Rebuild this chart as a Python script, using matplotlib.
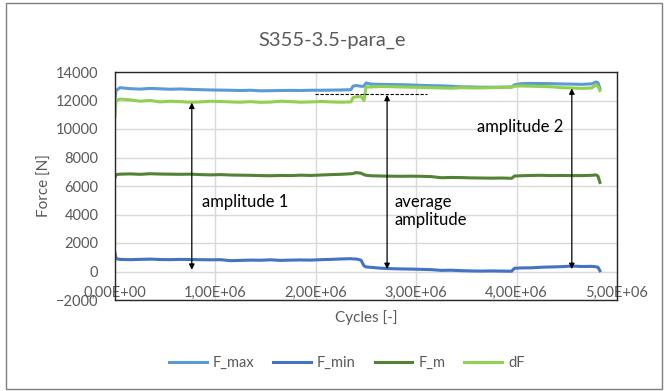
import matplotlib
matplotlib.use("Agg")
import matplotlib.pyplot as plt
from matplotlib.patches import Rectangle
from matplotlib.ticker import FuncFormatter, MultipleLocator

# cycles (x 1e6) shared by all series
cycles = [0.00, 0.01, 0.05, 0.15, 0.25, 0.35, 0.45, 0.55, 0.65, 0.75, 0.85, 0.95,
          1.05, 1.15, 1.25, 1.35, 1.45, 1.55, 1.65, 1.75, 1.85, 1.95, 2.05, 2.15,
          2.25, 2.35, 2.37, 2.40, 2.45, 2.48, 2.50, 2.55, 2.65, 2.75, 2.85, 2.95,
          3.05, 3.15, 3.25, 3.35, 3.45, 3.55, 3.65, 3.75, 3.85, 3.95, 3.98, 4.05,
          4.15, 4.25, 4.35, 4.45, 4.55, 4.65, 4.75, 4.79, 4.81, 4.83]

f_max = [12100, 12700, 12900, 12830, 12800, 12850, 12820, 12790, 12810, 12780, 12760, 12740,
         12730, 12720, 12700, 12720, 12680, 12690, 12700, 12710, 12700, 12720, 12720, 12730,
         12740, 12760, 13000, 13050, 13000, 13000, 13230, 13150, 13130, 13120, 13110, 13090,
         13060, 13040, 13030, 13000, 12960, 12950, 12930, 12930, 12940, 12950, 13100, 13180,
         13200, 13190, 13180, 13160, 13150, 13130, 13170, 13300, 13250, 12850]

f_min = [1300, 900, 850, 830, 850, 870, 840, 830, 850, 840, 830, 820,
         830, 760, 780, 800, 790, 820, 780, 800, 810, 800, 830, 850,
         880, 900, 880, 880, 800, 400, 320, 290, 230, 200, 180, 170,
         150, 130, 80, 90, 60, 40, 30, 40, 30, 20, 230, 250,
         260, 300, 320, 340, 380, 350, 360, 330, 300, 50]

f_m = [6600, 6800, 6830, 6850, 6820, 6860, 6840, 6830, 6820, 6830, 6800, 6780,
       6800, 6770, 6760, 6750, 6730, 6720, 6740, 6730, 6760, 6740, 6770, 6800,
       6820, 6860, 6870, 6940, 6900, 6800, 6750, 6720, 6700, 6690, 6680, 6690,
       6680, 6660, 6580, 6600, 6590, 6570, 6560, 6550, 6560, 6540, 6700, 6720,
       6740, 6750, 6730, 6740, 6730, 6730, 6750, 6780, 6700, 6250]

d_f = [10850, 12000, 12100, 12050, 11950, 12000, 11900, 11950, 11920, 11880, 11900, 11950,
       11930, 11900, 11880, 11920, 11870, 11890, 11950, 11920, 11880, 11900, 11930, 11900,
       11880, 11900, 12200, 12250, 12280, 12000, 12950, 12950, 12980, 12970, 12950, 12930,
       12920, 12900, 12880, 12860, 12900, 12880, 12880, 12900, 12920, 12930, 13000, 13020,
       13000, 12980, 12960, 12900, 12880, 12850, 12880, 13100, 13000, 12700]

x = [c * 1e6 for c in cycles]

txt = '#595959'
plt.rcParams['font.family'] = ['Lato', 'DejaVu Sans']

fig = plt.figure(figsize=(6.64, 3.91), dpi=100)
ax = fig.add_axes([115/664, 1 - 300/391, (617-115)/664, (300-72)/391])

ax.plot(x, f_max, color='#5B9BD5', lw=2.2, label='F_max')
ax.plot(x, f_min, color='#4472C4', lw=2.2, label='F_min')
ax.plot(x, f_m, color='#548235', lw=2.2, label='F_m')
ax.plot(x, d_f, color='#92D050', lw=2.2, label='dF')

ax.set_xlim(0, 5e6)
ax.set_ylim(-2000, 14000)
ax.xaxis.set_major_locator(MultipleLocator(1e6))
ax.yaxis.set_major_locator(MultipleLocator(2000))
ax.xaxis.set_major_formatter(FuncFormatter(lambda v, p: ('%.2E' % v).replace('.', ',')))
ax.grid(color='#D9D9D9', lw=1)
ax.set_axisbelow(True)
for s in ax.spines.values():
    s.set_color('#262626')
    s.set_linewidth(1)
ax.tick_params(length=0, labelsize=10.5, labelcolor=txt)
ax.tick_params(axis='y', pad=12)
ax.tick_params(axis='x', pad=-10)

ax.set_ylabel('Force [N]', fontsize=11, color=txt, labelpad=3)
ax.set_xlabel('Cycles [-]', fontsize=11, color=txt, labelpad=7)
fig.text(0.5, 1 - 40/391, 'S355-3.5-para_e', ha='center', va='center', fontsize=14.5, color=txt)

# amplitude markers
arrow = dict(arrowstyle='<|-|>', color='black', lw=0.9, mutation_scale=8, shrinkA=0, shrinkB=0)
ax.annotate('', xy=(0.765e6, 120), xytext=(0.765e6, 11850), arrowprops=arrow)
ax.annotate('', xy=(2.71e6, 170), xytext=(2.71e6, 12400), arrowprops=arrow)
ax.annotate('', xy=(4.55e6, 170), xytext=(4.55e6, 12850), arrowprops=arrow)
ax.plot([1.99e6, 3.11e6], [12430, 12430], color='black', lw=0.8, ls=(0, (3, 1.5)))

ax.text(0.87e6, 4900, 'amplitude 1', fontsize=12, color='black', va='center')
ax.text(2.78e6, 4250, 'average\namplitude', fontsize=12, color='black', va='center', linespacing=1.15)
ax.text(3.61e6, 10150, 'amplitude 2', fontsize=12, color='black', va='center')

fig.legend(loc='center', bbox_to_anchor=(0.522, 1 - 363/391), ncol=4, frameon=False,
           fontsize=10.5, labelcolor=txt, handlelength=2.6, columnspacing=1.3, handletextpad=0.4)

fig.patches.append(Rectangle((6/664, 2/391), 656/664, 386/391, transform=fig.transFigure,
                             fill=False, edgecolor='#7F7F7F', lw=1))

fig.savefig('out.png', dpi=100)
